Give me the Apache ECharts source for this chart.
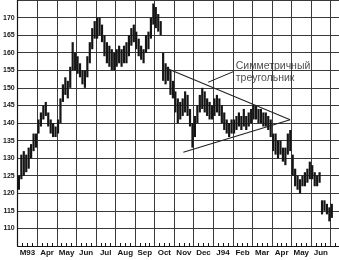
<!DOCTYPE html>
<html><head><meta charset="utf-8">
<script src="https://cdn.jsdelivr.net/npm/echarts@6/dist/echarts.min.js"></script>
<style>html,body{margin:0;padding:0;background:#fff}#c{width:339px;height:260px}</style>
</head><body><div id="c"></div>
<script>
// Month labels (each label sits in the middle of its month)
const monthLabels = ['M93','Apr','May','Jun','Jul','Aug','Sep','Oct','Nov','Dec','J94','Feb','Mar','Apr','May','Jun'];

// Price bars (about 8 per month), low and high
const barLow = [
  121,124,125,126,127,130,132,133,
  137,139,141,142,139,137,136,136,
  137,140,146,148,147,150,155,155,
  154,153,151,150,153,157,161,164,
  164,165,163,159,157,156,155,155,
  156,157,156,157,157,159,162,163,
  161,159,158,157,160,161,164,168,
  167,166,165,152,151,152,148,147,
  143,140,141,142,143,142,139,133,
  136,140,143,144,143,142,141,141,
  142,143,142,140,138,137,136,137,
  137,138,139,138,139,138,139,140,
  141,141,140,140,139,139,138,136,
  132,131,130,131,129,128,131,132,
  125,122,121,120,122,122,123,124,
  124,122,122,123,114,115,114,112,
  113
];
const barHigh = [
  125,131,132,131,133,134,137,137,
  141,143,145,146,143,141,140,139,
  141,147,151,153,152,156,163,160,
  159,157,155,155,159,163,167,169,
  170,170,168,165,163,162,161,160,
  161,162,161,162,163,165,167,168,
  166,164,162,161,165,166,170,174,
  173,171,169,160,157,156,155,152,
  149,147,146,147,149,148,144,140,
  142,145,148,150,149,147,146,145,
  147,148,147,145,143,141,140,141,
  141,142,143,142,144,142,143,144,
  145,145,144,144,143,143,142,141,
  137,137,135,135,133,133,137,138,
  131,127,125,124,125,126,127,129,
  128,126,125,126,118,118,117,116,
  117
];

// Triangle lines and annotation, in [month, price]
const triangleUpper = [[7.55, 155.7], [13.93, 140.9]];
const triangleLower = [[8.47, 131.7], [13.93, 140.9]];
const pointerLine = [[11.02, 154.6], [9.74, 151.6]];
const noteAnchor = [11.1, 154.6];
const noteText = 'Симметричный\nтреугольник';

const barsPerMonth = 8;
const bars = barLow.map((lo, i) => [(i + 0.5) / barsPerMonth, lo, barHigh[i]]);

const chart = echarts.init(document.getElementById('c'), null, {renderer: 'canvas'});
const ink = '#151515';
chart.setOption({
  animation: false,
  backgroundColor: '#fff',
  grid: {left: 17, right: 0, top: 0, bottom: 14, containLabel: false},
  xAxis: [{
    type: 'value', min: 0, max: 16.43, interval: 1, position: 'bottom',
    axisLine: {show: true, lineStyle: {color: ink, width: 1.2}},
    axisTick: {show: false, inside: true},
    minorTick: {show: true, splitNumber: 4, length: 3, lineStyle: {color: ink}},
    axisLabel: {show: false},
    splitLine: {show: true, lineStyle: {color: '#3a3a3a', width: 1}}
  }, {
    type: 'value', min: 0, max: 16.43, interval: 0.5, position: 'bottom',
    axisLine: {show: false}, axisTick: {show: false}, splitLine: {show: false},
    axisLabel: {
      show: true, margin: 3, fontSize: 8, fontWeight: 'bold', color: ink,
      fontFamily: 'Liberation Sans, Arial, sans-serif',
      showMinLabel: false, showMaxLabel: false,
      formatter: v => {
        const f = v - Math.floor(v);
        return Math.abs(f - 0.5) < 1e-6 ? (monthLabels[Math.floor(v)] || '') : '';
      }
    }
  }],
  yAxis: {
    type: 'value', min: 105, max: 175, interval: 5, position: 'left',
    axisLine: {show: true, lineStyle: {color: ink, width: 1.2}},
    axisTick: {show: false},
    axisLabel: {
      margin: 3, fontSize: 7, fontWeight: 'bold', color: ink,
      fontFamily: 'Liberation Sans, Arial, sans-serif',
      formatter: v => (v >= 110 && v <= 170) ? String(v) : ''
    },
    splitLine: {show: true, lineStyle: {color: '#3a3a3a', width: 1}}
  },
  series: [{
    type: 'custom', xAxisIndex: 0, yAxisIndex: 0,
    data: bars,
    encode: {x: 0, y: [1, 2]},
    renderItem: (params, api) => {
      const x = api.value(0);
      const p1 = api.coord([x, api.value(1)]);
      const p2 = api.coord([x, api.value(2)]);
      return {type: 'line', shape: {x1: p1[0], y1: p1[1], x2: p2[0], y2: p2[1]},
              style: {stroke: ink, lineWidth: 2.2}};
    }
  }, {
    type: 'line', xAxisIndex: 0, data: triangleUpper, symbol: 'none',
    lineStyle: {color: '#222', width: 1.1}
  }, {
    type: 'line', xAxisIndex: 0, data: triangleLower, symbol: 'none',
    lineStyle: {color: '#222', width: 1.1}
  }, {
    type: 'line', xAxisIndex: 0, data: pointerLine, symbol: 'none',
    lineStyle: {color: '#222', width: 1}
  }, {
    type: 'scatter', xAxisIndex: 0, data: [noteAnchor], symbolSize: 0,
    label: {
      show: true, position: 'right', distance: 1, formatter: noteText,
      fontSize: 10.5, lineHeight: 12, color: '#222', align: 'left',
      fontFamily: 'Liberation Sans, Arial, sans-serif'
    }
  }]
});
</script>
</body></html>
